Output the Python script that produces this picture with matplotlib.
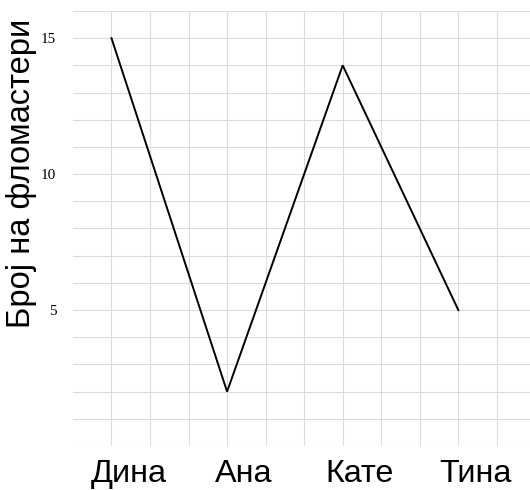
import numpy as np
import matplotlib
matplotlib.use("Agg")
import matplotlib.pyplot as plt
import matplotlib.transforms as mtransforms
from matplotlib.ticker import MultipleLocator

names = ["Дина", "Ана", "Кате", "Тина"]
counts = [15, 2, 14, 5]
yticks = [5, 10, 15]

fig = plt.figure(figsize=(5.3, 4.9), dpi=100)
ax = fig.add_axes([0.1377, 0.0898, 0.8623, 0.8878])

xs = np.arange(1, len(names) + 1)
ax.plot(xs, counts, color="black", lw=1.4, solid_joinstyle="miter")

ax.set_xlim(0.667, 4.62)
ax.set_ylim(0, 16)
ax.xaxis.set_minor_locator(MultipleLocator(1 / 3))
ax.yaxis.set_minor_locator(MultipleLocator(1))
ax.set_xticks(xs)
ax.set_xticklabels(names, fontfamily="Liberation Sans", fontsize=23.3)
ax.set_yticks(yticks)
ax.set_yticklabels([str(v) for v in yticks], fontfamily="Liberation Serif", fontsize=11)
ax.grid(which="both", color="#dcdcdc", lw=0.8)
ax.set_axisbelow(True)
ax.tick_params(which="both", length=0)
ax.tick_params(axis="x", pad=9.5)
ax.tick_params(axis="y", pad=12)
for s in ax.spines.values():
    s.set_visible(False)

# labels sit a little to the right of the points in the original
offset = mtransforms.ScaledTranslation(17 / 100, 0, fig.dpi_scale_trans)
for lab in ax.get_xticklabels():
    lab.set_transform(lab.get_transform() + offset)

ax.set_ylabel("Број на фломастери", fontfamily="Liberation Sans", fontsize=23.5)
ax.yaxis.set_label_coords(-0.079, 0.626)

fig.savefig("out.png", dpi=100)
